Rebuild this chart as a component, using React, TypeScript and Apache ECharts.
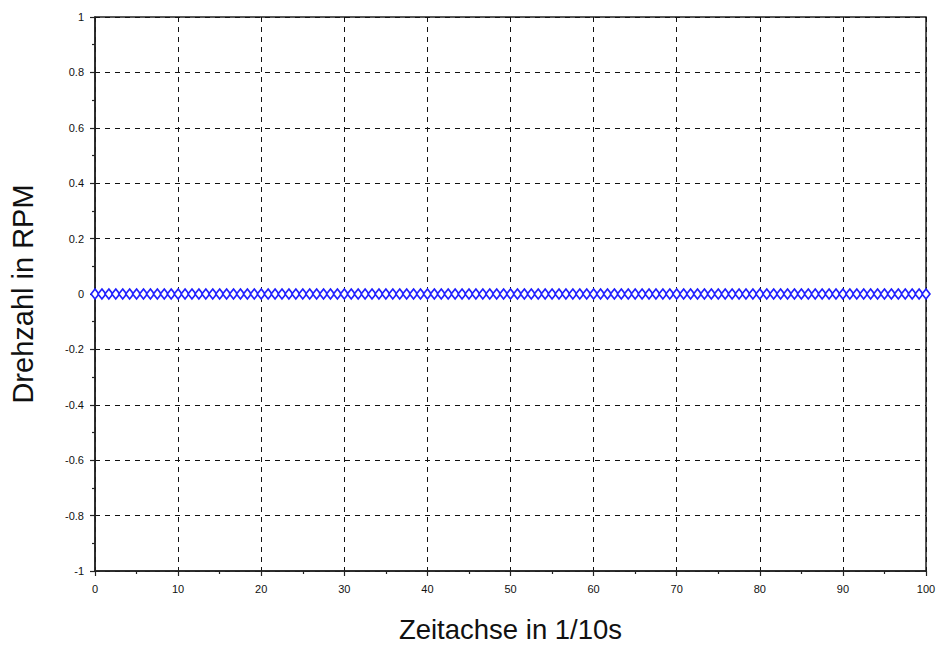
import React, { useEffect, useRef } from "react";
import * as echarts from "echarts";

const xTitle = "Zeitachse in 1/10s";
const yTitle = "Drehzahl in RPM";
const xStep = 100 / 120;
const rpm: number[] = [
  0, 0, 0, 0, 0, 0, 0, 0, 0, 0, 0, 0, 0, 0, 0, 0, 0, 0, 0, 0,
  0, 0, 0, 0, 0, 0, 0, 0, 0, 0, 0, 0, 0, 0, 0, 0, 0, 0, 0, 0,
  0, 0, 0, 0, 0, 0, 0, 0, 0, 0, 0, 0, 0, 0, 0, 0, 0, 0, 0, 0,
  0, 0, 0, 0, 0, 0, 0, 0, 0, 0, 0, 0, 0, 0, 0, 0, 0, 0, 0, 0,
  0, 0, 0, 0, 0, 0, 0, 0, 0, 0, 0, 0, 0, 0, 0, 0, 0, 0, 0, 0,
  0, 0, 0, 0, 0, 0, 0, 0, 0, 0, 0, 0, 0, 0, 0, 0, 0, 0, 0, 0,
  0,
];

export default function App() {
  const ref = useRef<HTMLDivElement>(null);
  useEffect(() => {
    if (!ref.current) return;
    const chart = echarts.init(ref.current, null, { renderer: "svg" });
    const font = "Liberation Sans, Arial, sans-serif";
    chart.setOption({
      animation: false,
      backgroundColor: "#ffffff",
      grid: {
        left: 95,
        right: 16,
        top: 17,
        bottom: 75,
        outerBoundsMode: "none",
        containLabel: false,
        show: true,
        borderColor: "#222",
        borderWidth: 1.5,
        backgroundColor: "transparent",
      },
      xAxis: {
        type: "value",
        min: 0,
        max: 100,
        interval: 10,
        name: xTitle,
        nameLocation: "middle",
        nameGap: 46,
        nameTextStyle: { fontSize: 27.5, lineHeight: 25, color: "#111", fontFamily: font },
        axisLine: { show: true, onZero: false, lineStyle: { color: "#222", width: 1.5 } },
        axisTick: { show: true, length: 5, lineStyle: { color: "#222", width: 1.2 } },
        minorTick: { show: true, splitNumber: 2, length: 3, lineStyle: { color: "#222", width: 1.2 } },
        axisLabel: { fontSize: 11, color: "#111", fontFamily: font, margin: 12 },
        splitLine: { show: true, lineStyle: { color: "#111", type: [5, 5], width: 1 } },
      },
      yAxis: {
        type: "value",
        min: -1,
        max: 1,
        interval: 0.2,
        name: yTitle,
        nameLocation: "middle",
        nameGap: 58,
        nameTextStyle: { fontSize: 29, color: "#111", fontFamily: font },
        axisLine: { show: true, onZero: false, lineStyle: { color: "#222", width: 1.5 } },
        axisTick: { show: true, length: 5, lineStyle: { color: "#222", width: 1.2 } },
        minorTick: { show: true, splitNumber: 2, length: 3, lineStyle: { color: "#222", width: 1.2 } },
        axisLabel: {
          fontSize: 11,
          color: "#111",
          fontFamily: font,
          margin: 11,
          formatter: (v: number) => {
            const r = Math.round(v * 10) / 10;
            return r === 0 ? "0" : String(r);
          },
        },
        splitLine: { show: true, lineStyle: { color: "#111", type: [5, 5], width: 1 } },
      },
      series: [
        {
          type: "line",
          data: rpm.map((v, i) => [i * xStep, v]),
          symbol: "diamond",
          symbolSize: [8, 10],
          showSymbol: true,
          showAllSymbol: true,
          lineStyle: { width: 0 },
          itemStyle: { color: "#fff", borderColor: "#2020ff", borderWidth: 1.6 },
          z: 5,
        },
      ],
    });
    return () => chart.dispose();
  }, []);
  return <div ref={ref} style={{ width: 942, height: 646, position: "absolute", left: 0, top: 0 }} />;
}
